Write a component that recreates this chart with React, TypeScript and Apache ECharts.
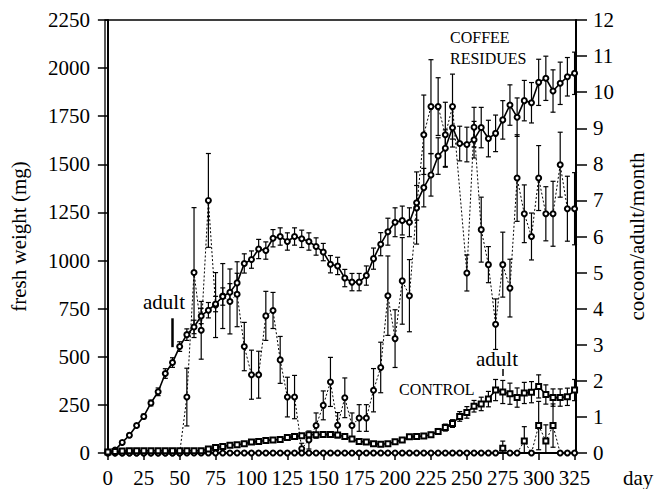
import React, { useEffect, useRef } from 'react';
import * as echarts from 'echarts';

const FONT = '"Liberation Serif", "Times New Roman", serif';

const days = [
  0, 5, 10, 15, 20, 25, 30, 35, 40, 45,
  50, 55, 60, 65, 70, 75, 80, 85, 90, 95,
  100, 105, 110, 115, 120, 125, 130, 135, 140, 145,
  150, 155, 160, 165, 170, 175, 180, 185, 190, 195,
  200, 205, 210, 215, 220, 225, 230, 235, 240, 245,
  250, 255, 260, 265, 270, 275, 280, 285, 290, 295,
  300, 305, 310, 315, 320, 325,
];

const xTicks = [0, 25, 50, 75, 100, 125, 150, 175, 200, 225, 250, 275, 300, 325];

// Coffee residues: fresh weight (mg), left axis
const coffeeWeight = [
  5, 15, 55, 92, 143, 190, 260, 318, 413, 470,
  553, 615, 655, 712, 742, 774, 813, 835, 884, 985,
  1005, 1060, 1052, 1116, 1125, 1099, 1125, 1113, 1099, 1073,
  1044, 981, 972, 909, 888, 888, 922, 1010, 1085, 1150,
  1199, 1208, 1199, 1300, 1379, 1445, 1543, 1584, 1690, 1608,
  1603, 1628, 1691, 1634, 1661, 1731, 1808, 1745, 1831, 1820,
  1926, 1947, 1881, 1921, 1955, 1973,
];
const coffeeWeightErr = [
  0, 0, 8, 10, 10, 12, 15, 20, 25, 25,
  25, 30, 35, 40, 40, 40, 45, 45, 50, 50,
  45, 50, 45, 45, 45, 45, 45, 45, 45, 45,
  45, 45, 45, 45, 45, 45, 50, 55, 60, 70,
  75, 75, 75, 90, 100, 110, 95, 95, 100, 90,
  90, 95, 105, 95, 95, 100, 105, 100, 105, 105,
  120, 115, 110, 110, 100, 110,
];

// Coffee residues: cocoon/adult/month, right axis
const coffeeCocoon = [
  0, 0, 0, 0, 0, 0, 0, 0, 0, 0,
  0, 1.55, 5.0, 3.4, 7.0, 4.1, 4.35, 4.2, 4.4, 2.95,
  2.17, 2.17, 3.8, 3.95, 2.58, 1.55, 1.55, 0.12, 0.36, 0.76,
  1.32, 1.97, 0.77, 1.53, 0.76, 0.97, 0.97, 1.74, 2.37, 4.36,
  3.17, 4.77, 4.36, 6.79, 8.82, 9.6, 9.6, 8.82, 9.6, null,
  4.99, 9.03, 6.19, 5.22, 3.57, 5.22, 4.57, 7.62, 6.63, 6.0,
  7.62, 6.63, 6.63, 7.99, 6.77, 6.77,
];
const coffeeCocoonErr = [
  0, 0, 0, 0, 0, 0, 0, 0, 0, 0,
  0, 0.8, 1.8, 0.8, 1.3, 0.9, 0.9, 0.9, 0.9, 0.67,
  0.68, 0.65, 0.68, 0.5, 0.65, 0.55, 0.6, 0.15, 0.25, 0.35,
  0.4, 0.68, 0.35, 0.55, 0.35, 0.37, 0.37, 0.6, 0.7, 1.1,
  0.8, 1.2, 1.0, 1.0, 1.1, 1.3, 0.8, 0.9, 0.9, 0,
  0.5, 0.55, 0.9, 0.5, 0.7, 0.9, 0.8, 1.2, 0.8, 0.65,
  0.9, 0.75, 0.9, 0.9, 0.9, 1.0,
];

// Control: fresh weight (mg), left axis
const controlWeight = [
  5, 8, 10, 12, 12, 12, 12, 12, 12, 12,
  12, 12, 12, 12, 21, 29, 34, 40, 43, 48,
  57, 60, 65, 68, 70, 80, 86, 90, 95, 95,
  96, 96, 93, 86, 73, 60, 57, 48, 46, 48,
  58, 68, 84, 86, 88, 95, 112, 132, 153, 190,
  211, 243, 255, 280, 327, 317, 308, 288, 312, 316,
  346, 304, 288, 288, 292, 327,
];
const controlWeightErr = [
  0, 0, 0, 0, 0, 0, 0, 0, 0, 0,
  0, 0, 0, 0, 4, 5, 6, 6, 7, 8,
  8, 8, 8, 8, 8, 10, 10, 10, 10, 10,
  10, 10, 10, 10, 10, 8, 8, 8, 8, 8,
  8, 8, 10, 10, 10, 12, 15, 18, 20, 25,
  30, 30, 35, 40, 55, 60, 55, 50, 55, 55,
  60, 50, 45, 45, 45, 55,
];

// Control: cocoon/adult/month, right axis
const controlCocoon = [
  0, 0, 0, 0, 0, 0, 0, 0, 0, 0,
  0, 0, 0, 0, 0, 0, 0, 0, 0, 0,
  0, 0, 0, 0, 0, 0, 0, 0, 0, 0,
  0, 0, 0, 0, 0, 0, 0, 0, 0, 0,
  0, 0, 0, 0, 0, 0, 0, 0, 0, 0,
  0, 0, 0, 0, 0, 0.13, 0, 0, 0.33, 0,
  0.76, 0.33, 0.76, 0, 0, 0,
];
const controlCocoonErr = [
  0, 0, 0, 0, 0, 0, 0, 0, 0, 0,
  0, 0, 0, 0, 0, 0, 0, 0, 0, 0,
  0, 0, 0, 0, 0, 0, 0, 0, 0, 0,
  0, 0, 0, 0, 0, 0, 0, 0, 0, 0,
  0, 0, 0, 0, 0, 0, 0, 0, 0, 0,
  0, 0, 0, 0, 0, 0.2, 0, 0, 0.4, 0,
  0.67, 0.45, 0.6, 0, 0, 0,
];

const pairs = (vals: (number | null)[]) => days.map((d, i) => [d, vals[i]]);

const errBars = (vals: (number | null)[], errs: number[], yAxisIndex: number) => ({
  type: 'custom',
  yAxisIndex,
  silent: true,
  z: 1,
  encode: { x: 0, y: [1, 2] },
  data: days
    .map((d, i) => {
      const v = vals[i];
      const e = errs[i];
      if (v == null || !e) return null;
      return [d, Math.max(0, v - e), v + e];
    })
    .filter((r) => r !== null),
  renderItem: (params: any, api: any) => {
    const x = api.value(0);
    const lo = api.coord([x, api.value(1)]);
    const hi = api.coord([x, api.value(2)]);
    const w = 2.5;
    const style = { stroke: '#000', lineWidth: 1.2 };
    return {
      type: 'group',
      children: [
        { type: 'line', shape: { x1: lo[0], y1: lo[1], x2: hi[0], y2: hi[1] }, style },
        { type: 'line', shape: { x1: hi[0] - w, y1: hi[1], x2: hi[0] + w, y2: hi[1] }, style },
        { type: 'line', shape: { x1: lo[0] - w, y1: lo[1], x2: lo[0] + w, y2: lo[1] }, style },
      ],
    };
  },
});

export default function App() {
  const ref = useRef<HTMLDivElement>(null);
  useEffect(() => {
    document.body.style.margin = '0';
    const chart = echarts.init(ref.current!, null, { renderer: 'svg' });
    const solid = { color: '#000', width: 1.6, type: 'solid' };
    const dotted = { color: '#000', width: 1, type: [2, 2] };
    const marker = { color: '#000', borderColor: '#000', borderWidth: 1 };
    const plain = (v: number) => String(v);
    const option: any = {
      animation: false,
      backgroundColor: '#fff',
      grid: {
        left: 105, right: 79, top: 20, bottom: 36,
        show: true, borderColor: '#000', borderWidth: 1.3, backgroundColor: 'transparent',
      },
      xAxis: {
        type: 'value', min: -2, max: 326,
        axisLine: { show: true, onZero: false, lineStyle: { color: '#000', width: 2 } },
        axisTick: { show: true, customValues: xTicks, length: 7, lineStyle: { color: '#000', width: 1.5 } },
        axisLabel: { customValues: xTicks, formatter: plain, color: '#000', fontSize: 21, fontFamily: FONT, margin: 14 },
        splitLine: { show: false },
      },
      yAxis: [
        {
          type: 'value', min: 0, max: 2250, interval: 250, position: 'left',
          name: 'fresh weight (mg)', nameLocation: 'middle', nameRotate: 90, nameGap: 76,
          nameTextStyle: { color: '#000', fontSize: 21, fontFamily: FONT },
          axisLine: { show: true, lineStyle: { color: '#000', width: 2 } },
          axisTick: { show: true, length: 10, lineStyle: { color: '#000', width: 1.5 } },
          axisLabel: { formatter: plain, color: '#000', fontSize: 21, fontFamily: FONT, margin: 15 },
          splitLine: { show: false },
        },
        {
          type: 'value', min: 0, max: 12, interval: 1, position: 'right',
          name: 'cocoon/adult/month', nameLocation: 'middle', nameRotate: 90, nameGap: 50,
          nameTextStyle: { color: '#000', fontSize: 21, fontFamily: FONT },
          axisLine: { show: true, lineStyle: { color: '#000', width: 2 } },
          axisTick: { show: true, length: 11, lineStyle: { color: '#000', width: 1.5 } },
          axisLabel: { formatter: plain, color: '#000', fontSize: 21, fontFamily: FONT, margin: 17 },
          splitLine: { show: false },
        },
      ],
      series: [
        errBars(coffeeWeight, coffeeWeightErr, 0),
        errBars(coffeeCocoon, coffeeCocoonErr, 1),
        errBars(controlWeight, controlWeightErr, 0),
        errBars(controlCocoon, controlCocoonErr, 1),
        {
          type: 'line', name: 'coffee weight', yAxisIndex: 0, z: 3,
          data: pairs(coffeeWeight),
          symbol: 'emptyCircle', symbolSize: 5,
          lineStyle: solid, itemStyle: marker,
          markLine: {
            silent: true, symbol: 'none', label: { show: false },
            lineStyle: { color: '#000', width: 2.5, type: 'solid' },
            data: [[{ coord: [45, 550] }, { coord: [45, 700] }]],
          },
        },
        {
          type: 'line', name: 'coffee cocoon', yAxisIndex: 1, z: 2,
          data: pairs(coffeeCocoon), connectNulls: true,
          symbol: 'emptyCircle', symbolSize: 5,
          lineStyle: dotted, itemStyle: marker,
        },
        {
          type: 'line', name: 'control weight', yAxisIndex: 0, z: 3,
          data: pairs(controlWeight),
          symbol: 'emptyRect', symbolSize: 5,
          lineStyle: solid, itemStyle: marker,
          markLine: {
            silent: true, symbol: 'none', label: { show: false },
            lineStyle: { color: '#000', width: 1.5, type: 'solid' },
            data: [[{ coord: [275, 400] }, { coord: [275, 436] }]],
          },
        },
        {
          type: 'line', name: 'control cocoon', yAxisIndex: 1, z: 2,
          data: pairs(controlCocoon),
          symbol: (v: any) => (v[1] > 0 ? 'emptyRect' : 'emptyCircle'), symbolSize: 5,
          lineStyle: dotted, itemStyle: marker,
        },
      ],
      graphic: [
        { type: 'text', x: 143, y: 302, style: { text: 'adult', font: `21px ${FONT}`, fill: '#000', align: 'left', verticalAlign: 'middle' } },
        { type: 'text', x: 497, y: 359, style: { text: 'adult', font: `21px ${FONT}`, fill: '#000', align: 'center', verticalAlign: 'middle' } },
        { type: 'text', x: 399, y: 389, style: { text: 'CONTROL', font: `16px ${FONT}`, fill: '#000', align: 'left', verticalAlign: 'middle' } },
        { type: 'text', x: 450, y: 37, style: { text: 'COFFEE', font: `16px ${FONT}`, fill: '#000', align: 'left', verticalAlign: 'middle' } },
        { type: 'text', x: 450, y: 58.5, style: { text: 'RESIDUES', font: `16px ${FONT}`, fill: '#000', align: 'left', verticalAlign: 'middle' } },
        { type: 'text', x: 623, y: 478, style: { text: 'day', font: `21px ${FONT}`, fill: '#000', align: 'left', verticalAlign: 'middle' } },
      ],
    };
    chart.setOption(option);
    return () => chart.dispose();
  }, []);
  return <div ref={ref} style={{ width: 655, height: 489 }} />;
}
